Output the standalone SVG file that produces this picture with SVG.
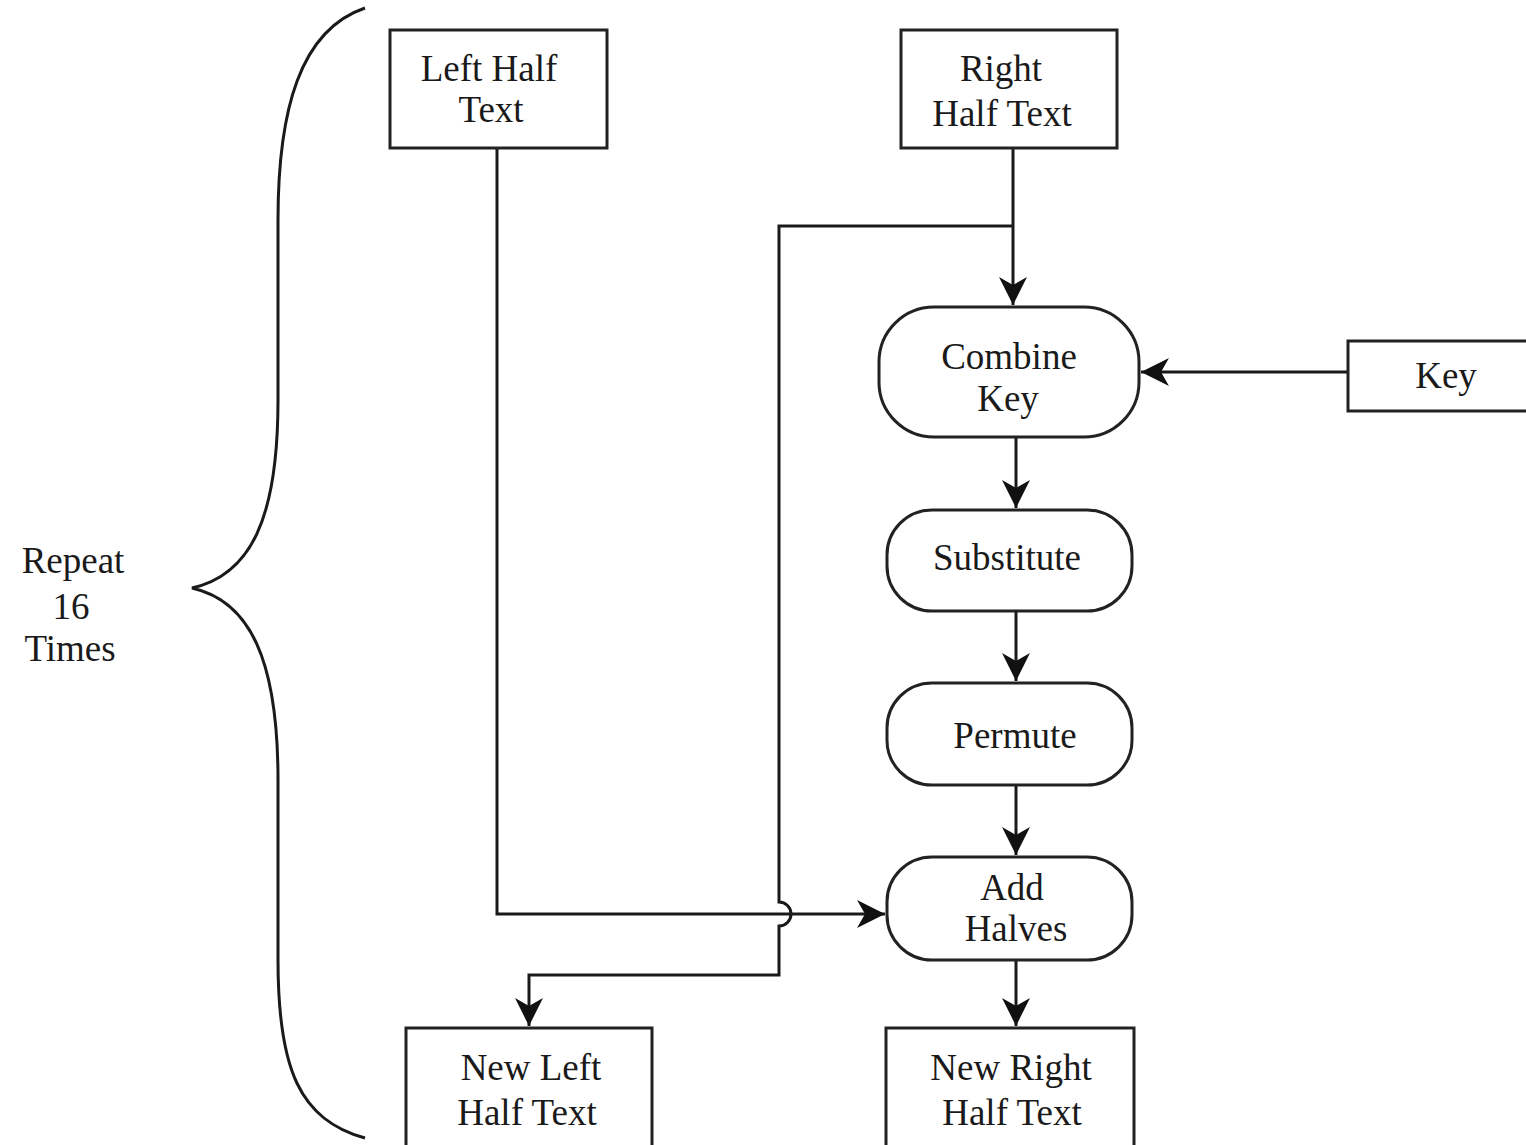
<svg xmlns="http://www.w3.org/2000/svg" width="1526" height="1145" viewBox="0 0 1526 1145">
<style>
.box{fill:#fff;stroke:#222;stroke-width:3}
.t{font-family:"Liberation Serif","Times New Roman",serif;font-size:37px;fill:#1a1a1a;text-anchor:middle}
.c{fill:none;stroke:#1a1a1a;stroke-width:3}
</style>
<defs>
<marker id="ah" markerWidth="30" markerHeight="30" refX="28" refY="14" orient="auto" markerUnits="userSpaceOnUse">
<path d="M0,0 L28,14 L0,28 L8,14 z" fill="#111"/>
</marker>
</defs>
<rect width="1526" height="1145" fill="#fff"/>
<g id="connectors">
<path class="c" d="M1013,148 V305" marker-end="url(#ah)"/>
<path class="c" d="M1013,226 H779 V902 A12,12 0 0 1 779,926 V975 H529 V1026" marker-end="url(#ah)"/>
<path class="c" d="M497,148 V914 H885" marker-end="url(#ah)"/>
<path class="c" d="M1348,372 H1141" marker-end="url(#ah)"/>
<path class="c" d="M1016,437 V508" marker-end="url(#ah)"/>
<path class="c" d="M1016,611 V681" marker-end="url(#ah)"/>
<path class="c" d="M1016,785 V855" marker-end="url(#ah)"/>
<path class="c" d="M1016,960 V1026" marker-end="url(#ah)"/>
</g>
<g id="brace">
<path class="c" d="M365,8 C300,30 278,110 278,220 V400 C278,520 250,575 192,588 C250,601 278,660 278,780 V960 C278,1070 300,1120 365,1138"/>
<text class="t" x="73" y="573">Repeat</text>
<text class="t" x="71" y="619">16</text>
<text class="t" x="70" y="661">Times</text>
</g>
<g id="left-half">
<rect class="box" x="390" y="30" width="217" height="118"/>
<text class="t" x="489" y="81">Left Half</text>
<text class="t" x="491" y="122">Text</text>
</g>
<g id="right-half">
<rect class="box" x="901" y="30" width="216" height="118"/>
<text class="t" x="1001" y="81">Right</text>
<text class="t" x="1002" y="126">Half Text</text>
</g>
<g id="combine-key">
<rect class="box" x="879" y="307" width="260" height="130" rx="55" ry="55"/>
<text class="t" x="1009" y="369">Combine</text>
<text class="t" x="1008" y="411">Key</text>
</g>
<g id="key">
<rect class="box" x="1348" y="341" width="190" height="70"/>
<text class="t" x="1446" y="388">Key</text>
</g>
<g id="substitute">
<rect class="box" x="887" y="510" width="245" height="101" rx="45" ry="45"/>
<text class="t" x="1007" y="570">Substitute</text>
</g>
<g id="permute">
<rect class="box" x="887" y="683" width="245" height="102" rx="45" ry="45"/>
<text class="t" x="1015" y="748">Permute</text>
</g>
<g id="add-halves">
<rect class="box" x="887" y="857" width="245" height="103" rx="45" ry="45"/>
<text class="t" x="1012" y="900">Add</text>
<text class="t" x="1016" y="941">Halves</text>
</g>
<g id="new-left">
<rect class="box" x="406" y="1028" width="246" height="130"/>
<text class="t" x="531" y="1080">New Left</text>
<text class="t" x="527" y="1125">Half Text</text>
</g>
<g id="new-right">
<rect class="box" x="886" y="1028" width="248" height="130"/>
<text class="t" x="1011" y="1080">New Right</text>
<text class="t" x="1012" y="1125">Half Text</text>
</g>
</svg>
